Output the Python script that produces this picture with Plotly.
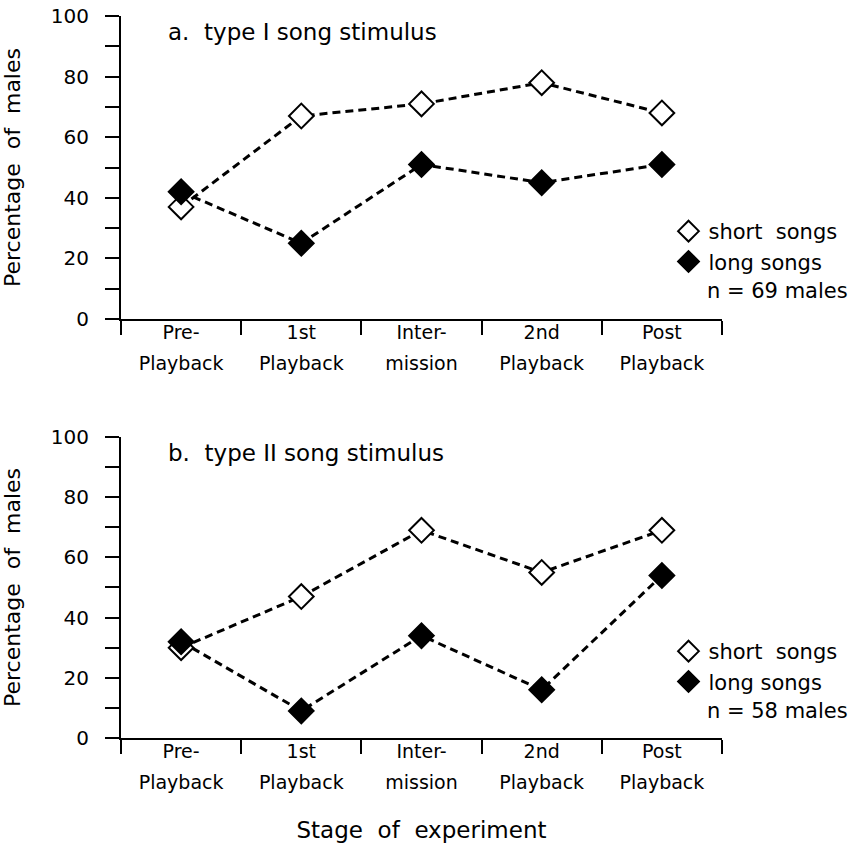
import plotly.graph_objects as go

stages = ["Pre-Playback", "1st Playback", "Intermission", "2nd Playback", "Post Playback"]
label_line1 = ["Pre-", "1st", "Inter-", "2nd", "Post"]
label_line2 = ["Playback", "Playback", "mission", "Playback", "Playback"]

# panel a: type I song stimulus (n = 69 males)
a_short = [37, 67, 71, 78, 68]
a_long = [42, 25, 51, 45, 51]
# panel b: type II song stimulus (n = 58 males)
b_short = [30, 47, 69, 55, 69]
b_long = [32, 9, 34, 16, 54]

y_ticks = [0, 20, 40, 60, 80, 100]

FONT = "DejaVu Sans"
BLACK = "#000000"

fig = go.Figure()

def add_panel(xa, ya, short, long_, legend):
    fig.add_trace(go.Scatter(
        x=stages, y=short, mode="lines+markers", xaxis=xa, yaxis=ya,
        line=dict(color=BLACK, width=3, dash="8px,5px"),
        marker=dict(symbol="diamond", size=19, color="white",
                    line=dict(color=BLACK, width=2)),
        showlegend=False, cliponaxis=False))
    fig.add_trace(go.Scatter(
        x=stages, y=long_, mode="lines+markers", xaxis=xa, yaxis=ya,
        line=dict(color=BLACK, width=3, dash="8px,5px"),
        marker=dict(symbol="diamond", size=19, color=BLACK,
                    line=dict(color=BLACK, width=2)),
        showlegend=False, cliponaxis=False))
    # legend entries (markers only)
    fig.add_trace(go.Scatter(
        x=[None], y=[None], mode="markers", xaxis=xa, yaxis=ya,
        name="short  songs", legend=legend,
        marker=dict(symbol="diamond", size=19, color="white",
                    line=dict(color=BLACK, width=2))))
    fig.add_trace(go.Scatter(
        x=[None], y=[None], mode="markers", xaxis=xa, yaxis=ya,
        name="long songs", legend=legend,
        marker=dict(symbol="diamond", size=19, color=BLACK,
                    line=dict(color=BLACK, width=2))))

add_panel("x", "y", a_short, a_long, "legend")
add_panel("x2", "y2", b_short, b_long, "legend2")

idx = list(range(len(stages)))
xrange = [-0.5, len(stages) - 0.5]

# invisible carriers so that the overlaying label axes are drawn
for xa, ya in [("x3", "y"), ("x4", "y"), ("x5", "y2"), ("x6", "y2")]:
    fig.add_trace(go.Scatter(x=idx, y=[None] * len(idx), mode="markers",
                             xaxis=xa, yaxis=ya, showlegend=False,
                             hoverinfo="skip", marker=dict(opacity=0)))

main_x = dict(type="category", categoryorder="array", categoryarray=stages,
              range=xrange, tickson="boundaries", ticks="outside", ticklen=14,
              tickwidth=2, tickcolor=BLACK, showline=True, linewidth=2,
              linecolor=BLACK, showgrid=False, zeroline=False,
              showticklabels=False, fixedrange=True, automargin=False)

def overlay_x(base, anchor, texts, standoff, title=None):
    d = dict(overlaying=base, anchor=anchor, side="bottom", type="linear",
             range=xrange, tickmode="array", tickvals=idx, ticktext=texts,
             ticks="", showline=False, showgrid=False, zeroline=False,
             tickfont=dict(family=FONT, size=19, color=BLACK),
             ticklabelstandoff=standoff, fixedrange=True, automargin=False,
             ticklabeloverflow="allow")
    if title:
        d["title"] = dict(text=title, font=dict(family=FONT, size=23, color=BLACK),
                          standoff=30)
    return d

main_y = dict(range=[0, 100], tickmode="array", tickvals=y_ticks,
              ticks="outside", ticklen=14, tickwidth=2, tickcolor=BLACK,
              minor=dict(dtick=10, ticks="outside", ticklen=14, tickwidth=2,
                         tickcolor=BLACK),
              showline=True, linewidth=2, linecolor=BLACK, showgrid=False,
              zeroline=False, tickfont=dict(family=FONT, size=20, color=BLACK),
              ticklabelstandoff=12, ticklabeloverflow="allow",
              fixedrange=True, automargin=False,
              title=dict(text="Percentage  of  males",
                         font=dict(family=FONT, size=22, color=BLACK), standoff=24))

fig.update_layout(
    template="none",
    width=867, height=843,
    margin=dict(l=121, r=145, t=16, b=105, autoexpand=False),
    paper_bgcolor="white", plot_bgcolor="white",
    font=dict(family=FONT, color=BLACK),
    xaxis=dict(main_x, domain=[0, 1], anchor="y"),
    yaxis=dict(main_y, domain=[0.5803, 1], anchor="x"),
    xaxis2=dict(main_x, domain=[0, 1], anchor="y2"),
    yaxis2=dict(main_y, domain=[0, 0.4169], anchor="x2"),
    xaxis3=overlay_x("x", "y", label_line1, 0),
    xaxis4=overlay_x("x", "y", label_line2, 31),
    xaxis5=overlay_x("x2", "y2", label_line1, 0),
    xaxis6=overlay_x("x2", "y2", label_line2, 31, title="Stage  of  experiment"),
    legend=dict(x=0.911, y=0.7299, xanchor="left", yanchor="top",
                font=dict(family=FONT, size=21, color=BLACK),
                bgcolor="rgba(0,0,0,0)", itemsizing="trace", tracegroupgap=0),
    legend2=dict(x=0.911, y=0.1482, xanchor="left", yanchor="top",
                 font=dict(family=FONT, size=21, color=BLACK),
                 bgcolor="rgba(0,0,0,0)", itemsizing="trace", tracegroupgap=0),
    shapes=[
        dict(type="line", xref="x domain", yref="y", x0=-0.025, x1=0, y0=0, y1=0,
             line=dict(color=BLACK, width=2)),
        dict(type="line", xref="x2 domain", yref="y2", x0=-0.025, x1=0, y0=0, y1=0,
             line=dict(color=BLACK, width=2)),
    ],
    annotations=[
        dict(text="a.  type I song stimulus", xref="x domain", yref="y domain",
             x=0.0757, y=0.947, xanchor="left", yanchor="middle", showarrow=False,
             font=dict(family=FONT, size=23, color=BLACK)),
        dict(text="b.  type II song stimulus", xref="x2 domain", yref="y2 domain",
             x=0.0757, y=0.947, xanchor="left", yanchor="middle", showarrow=False,
             font=dict(family=FONT, size=23, color=BLACK)),
        dict(text="n = 69 males", xref="x domain", yref="y domain",
             x=0.971, y=0.0924, xanchor="left", yanchor="middle", showarrow=False,
             font=dict(family=FONT, size=21, color=BLACK)),
        dict(text="n = 58 males", xref="x2 domain", yref="y2 domain",
             x=0.971, y=0.0897, xanchor="left", yanchor="middle", showarrow=False,
             font=dict(family=FONT, size=21, color=BLACK)),
    ],
)

fig.write_html("out.html", config={"displayModeBar": False},
               post_script="document.body.style.margin='0';")
